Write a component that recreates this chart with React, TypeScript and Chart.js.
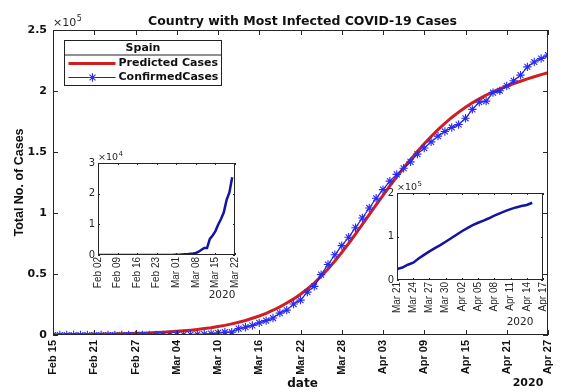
import React, { useEffect, useRef } from "react";
import { Chart, registerables } from "chart.js";
import { drawPoint } from "chart.js/helpers";

Chart.register(...registerables);

// ---------------- data ----------------
const TITLE = "Country with Most Infected COVID-19 Cases";
const COUNTRY = "Spain";
const SERIES_NAMES = ["Predicted Cases", "ConfirmedCases"];
const X_TITLE = "date";
const Y_TITLE = "Total No. of Cases";
const YEAR = "2020";

// main chart: one value per day, Feb 15 .. Apr 27 2020
const MAIN_TICK_LABELS = [
  "Feb 15", "Feb 21", "Feb 27", "Mar 04", "Mar 10", "Mar 16", "Mar 22",
  "Mar 28", "Apr 03", "Apr 09", "Apr 15", "Apr 21", "Apr 27",
];
const MAIN_TICK_STEP_DAYS = 6;

const PREDICTED = [
  240, 280, 320, 370, 420, 490, 560, 640, 740, 850, 980, 1130, 1300, 1490, 1710,
  1970, 2270, 2610, 3000, 3450, 3960, 4560, 5240, 6000, 6900, 7900, 9100, 10400,
  11900, 13700, 15600, 17800, 20300, 23100, 26200, 29600, 33400, 37700, 42600,
  48100, 54100, 60600, 67600, 75000, 82700, 90600,
  98600, 106600, 114500, 122200, 129700, 136900, 143800, 150400, 156700, 162700,
  168300, 173500, 178300, 182700, 186700, 190300, 193600, 196600, 199300, 201700,
  203900, 206000, 208000, 209900, 211700, 213400, 215000,
];

const CONFIRMED = [
  2, 2, 2, 2, 2, 2, 2, 2, 2, 2, 6, 13, 15, 32, 45,
  84, 120, 165, 222, 259, 400, 500, 673, 1073, 1695, 2277, 2277, 5232, 6391, 7798,
  9942, 11748, 13910, 17963, 20410, 25374, 28603, 35136, 39885, 49515, 57786,
  65719, 73235, 80110, 87956, 95923,
  104118, 112065, 119199, 126168, 131646, 136675, 141942, 148220, 153222, 158273,
  163027, 166831, 170099, 172541, 177644, 184948, 190839, 191726, 198674, 200210,
  204178, 208389, 213024, 219764, 223759, 226629, 229422,
];

// inset 1: Feb 02 .. Mar 21
const INSET1_TICK_LABELS = [
  "Feb 02", "Feb 09", "Feb 16", "Feb 23", "Mar 01", "Mar 08", "Mar 15", "Mar 22",
];
const INSET1_TICK_STEP_DAYS = 7;
const INSET1_VALUES = [
  1, 1, 1, 1, 1, 1, 1,
  2, 2, 2, 2, 2, 2, 2, 2, 2, 2, 2, 2, 2, 2, 2, 2,
  6, 13, 15, 32, 45,
  84, 120, 165, 222, 259, 400, 500, 673, 1073, 1695, 2277, 2277, 5232, 6391,
  7798, 9942, 11748, 13910, 17963, 20410, 25374,
];

// inset 2: Mar 21 .. Apr 15
const INSET2_TICK_LABELS = [
  "Mar 21", "Mar 24", "Mar 27", "Mar 30", "Apr 02", "Apr 05", "Apr 08",
  "Apr 11", "Apr 14", "Apr 17",
];
const INSET2_TICK_STEP_DAYS = 3;
const INSET2_VALUES = [
  25374, 28603, 35136, 39885, 49515, 57786, 65719, 73235, 80110, 87956, 95923,
  104118, 112065, 119199, 126168, 131646, 136675, 141942, 148220, 153222,
  158273, 163027, 166831, 170099, 172541, 177644,
];

// ---------------- styles ----------------
const AXIS = "#262626";
const RED = "#cf1f23";
const BLUE = "#1f1fd0";
const BLUE_MARK = "#2a2af2";
const NAVY = "#14149e";
const DJ = "'DejaVu Sans', sans-serif";
const LIB = "'Liberation Sans', Arial, sans-serif";

function drawMultiplier(ctx: CanvasRenderingContext2D, x: number, y: number, exp: string, size: number) {
  ctx.save();
  ctx.fillStyle = AXIS;
  ctx.textAlign = "left";
  ctx.textBaseline = "alphabetic";
  ctx.font = `${size}px ${DJ}`;
  const base = "\u00d710";
  ctx.fillText(base, x, y);
  const w = ctx.measureText(base).width;
  ctx.font = `${Math.round(size * 0.7)}px ${DJ}`;
  ctx.fillText(exp, x + w + 0.5, y - size * 0.45);
  ctx.restore();
}

const mainDecor = {
  id: "mainDecor",
  afterDraw(chart: any) {
    const { ctx, chartArea: a, scales } = chart;
    const xs = scales.x;
    const ys = scales.y;
    ctx.save();
    // box
    ctx.strokeStyle = AXIS;
    ctx.lineWidth = 1;
    ctx.strokeRect(a.left + 0.5, a.top + 0.5, a.right - a.left - 1, a.bottom - a.top - 1);
    // inward ticks on all four sides
    ctx.beginPath();
    xs.ticks.forEach((t: any) => {
      const px = Math.round(xs.getPixelForValue(t.value)) + 0.5;
      ctx.moveTo(px, a.bottom);
      ctx.lineTo(px, a.bottom - 5);
      ctx.moveTo(px, a.top);
      ctx.lineTo(px, a.top + 5);
    });
    ys.ticks.forEach((t: any) => {
      const py = Math.round(ys.getPixelForValue(t.value)) + 0.5;
      ctx.moveTo(a.left, py);
      ctx.lineTo(a.left + 5, py);
      ctx.moveTo(a.right, py);
      ctx.lineTo(a.right - 5, py);
    });
    ctx.stroke();

    // title
    ctx.fillStyle = "#111";
    ctx.textAlign = "center";
    ctx.textBaseline = "alphabetic";
    ctx.font = `bold 12.5px ${DJ}`;
    ctx.fillText(TITLE, (a.left + a.right) / 2 + 2, 25);

    // y title
    ctx.save();
    ctx.translate(23, (a.top + a.bottom) / 2);
    ctx.rotate(-Math.PI / 2);
    ctx.font = `bold 12.5px ${LIB}`;
    ctx.textAlign = "center";
    ctx.fillText(Y_TITLE, 0, 0);
    ctx.restore();

    // x title and year
    ctx.font = `bold 12px ${DJ}`;
    ctx.textAlign = "center";
    ctx.fillText(X_TITLE, (a.left + a.right) / 2 + 2, 387);
    ctx.font = `bold 11px ${DJ}`;
    ctx.fillText(YEAR, a.right - 20, 386);

    // exponent
    drawMultiplier(ctx, a.left, 26, "5", 11);

    // legend
    const lx = a.left + 11.5;
    const ly = a.top + 10.5;
    const lw = 157;
    const lh = 45;
    ctx.fillStyle = "#fff";
    ctx.fillRect(lx, ly, lw, lh);
    ctx.strokeStyle = "#222";
    ctx.lineWidth = 1;
    ctx.strokeRect(lx, ly, lw, lh);
    ctx.beginPath();
    ctx.moveTo(lx, ly + 14.5);
    ctx.lineTo(lx + lw, ly + 14.5);
    ctx.stroke();
    ctx.fillStyle = "#111";
    ctx.font = `bold 11px ${DJ}`;
    ctx.textAlign = "center";
    ctx.textBaseline = "middle";
    ctx.fillText(COUNTRY, lx + lw / 2, ly + 7.5);

    const ds = chart.data.datasets;
    const rows = [ly + 23, ly + 37];
    // predicted
    ctx.strokeStyle = ds[0].borderColor;
    ctx.lineWidth = ds[0].borderWidth;
    ctx.beginPath();
    ctx.moveTo(lx + 4, rows[0]);
    ctx.lineTo(lx + 51, rows[0]);
    ctx.stroke();
    // confirmed
    ctx.strokeStyle = ds[1].borderColor;
    ctx.lineWidth = ds[1].borderWidth;
    ctx.beginPath();
    ctx.moveTo(lx + 4, rows[1]);
    ctx.lineTo(lx + 51, rows[1]);
    ctx.stroke();
    ctx.strokeStyle = ds[1].pointBorderColor;
    ctx.lineWidth = ds[1].pointBorderWidth;
    drawPoint(ctx, { pointStyle: "star", radius: ds[1].pointRadius, borderWidth: ds[1].pointBorderWidth, rotation: 0 } as any, lx + 28, rows[1]);

    ctx.fillStyle = "#111";
    ctx.textAlign = "left";
    ctx.textBaseline = "middle";
    ctx.font = `bold 11px ${DJ}`;
    ctx.fillText(SERIES_NAMES[0], lx + 54, rows[0]);
    ctx.fillText(SERIES_NAMES[1], lx + 54, rows[1]);
    ctx.restore();
  },
};

function makeInsetDecor(exp: string, yearX: number, yearY: number) {
  return {
    id: "insetDecor",
    beforeDraw(chart: any) {
      const { ctx, chartArea: a } = chart;
      ctx.save();
      ctx.fillStyle = "#fff";
      ctx.fillRect(a.left, a.top, a.right - a.left, a.bottom - a.top);
      ctx.restore();
    },
    afterDraw(chart: any) {
      const { ctx, chartArea: a, scales } = chart;
      const xs = scales.x;
      const ys = scales.y;
      ctx.save();
      ctx.strokeStyle = AXIS;
      ctx.lineWidth = 1;
      ctx.strokeRect(a.left + 0.5, a.top + 0.5, a.right - a.left - 1, a.bottom - a.top - 1);
      ctx.beginPath();
      xs.ticks.forEach((t: any) => {
        const px = Math.round(xs.getPixelForValue(t.value)) + 0.5;
        ctx.moveTo(px, a.bottom);
        ctx.lineTo(px, a.bottom - 2);
        ctx.moveTo(px, a.top);
        ctx.lineTo(px, a.top + 2);
      });
      ys.ticks.forEach((t: any) => {
        const py = Math.round(ys.getPixelForValue(t.value)) + 0.5;
        ctx.moveTo(a.left, py);
        ctx.lineTo(a.left + 2, py);
        ctx.moveTo(a.right, py);
        ctx.lineTo(a.right - 2, py);
      });
      ctx.stroke();
      drawMultiplier(ctx, a.left, a.top - 3, exp, 9.5);
      ctx.fillStyle = AXIS;
      ctx.font = `10.5px ${DJ}`;
      ctx.textAlign = "center";
      ctx.textBaseline = "middle";
      ctx.fillText(YEAR, yearX, yearY);
      ctx.restore();
    },
  };
}

function insetConfig(
  values: number[],
  tickLabels: string[],
  step: number,
  yMax: number,
  yUnit: number,
  exp: string,
  yWidth: number,
  xHeight: number,
  padTop: number,
  padRight: number,
  yearX: number,
  yearY: number,
): any {
  const xMax = (tickLabels.length - 1) * step;
  return {
    type: "line",
    data: {
      datasets: [
        {
          data: values.map((v, i) => ({ x: i, y: v })),
          borderColor: NAVY,
          borderWidth: 2.5,
          pointRadius: 0,
          tension: 0,
        },
      ],
    },
    options: {
      responsive: false,
      animation: false,
      devicePixelRatio: 1,
      events: [],
      layout: { padding: { top: padTop, right: padRight, left: 0, bottom: 0 } },
      plugins: { legend: { display: false }, tooltip: { enabled: false } },
      scales: {
        x: {
          type: "linear",
          min: 0,
          max: xMax,
          afterBuildTicks: (s: any) => {
            s.ticks = tickLabels.map((_, i) => ({ value: i * step }));
          },
          afterFit: (s: any) => {
            s.height = xHeight;
          },
          grid: { display: false, drawTicks: false },
          border: { display: false },
          ticks: {
            autoSkip: false,
            minRotation: 90,
            maxRotation: 90,
            padding: 2,
            color: AXIS,
            font: { family: LIB, size: 10 },
            callback: (v: number) => tickLabels[Math.round(v / step)],
          },
        },
        y: {
          min: 0,
          max: yMax,
          afterFit: (s: any) => {
            s.width = yWidth;
          },
          grid: { display: false, drawTicks: false },
          border: { display: false },
          ticks: {
            stepSize: yUnit,
            padding: 3,
            color: AXIS,
            font: { family: DJ, size: 10 },
            callback: (v: number) => String(v / yUnit),
          },
        },
      },
    },
    plugins: [makeInsetDecor(exp, yearX, yearY)],
  };
}

export default function App() {
  const mainRef = useRef<HTMLCanvasElement>(null);
  const in1Ref = useRef<HTMLCanvasElement>(null);
  const in2Ref = useRef<HTMLCanvasElement>(null);

  useEffect(() => {
    const charts: Chart[] = [];
    const main = new Chart(mainRef.current!, {
      type: "line",
      data: {
        datasets: [
          {
            label: SERIES_NAMES[0],
            data: PREDICTED.map((v, i) => ({ x: i, y: v })),
            borderColor: RED,
            borderWidth: 3,
            pointRadius: 0,
            tension: 0,
            order: 2,
          },
          {
            label: SERIES_NAMES[1],
            data: CONFIRMED.map((v, i) => ({ x: i, y: v })),
            borderColor: BLUE,
            borderWidth: 1.2,
            pointStyle: "star",
            pointRadius: 4.2,
            pointBorderColor: BLUE_MARK,
            pointBorderWidth: 1.1,
            pointBackgroundColor: "rgba(0,0,0,0)",
            tension: 0,
            order: 1,
          },
        ],
      },
      options: {
        responsive: false,
        animation: false,
        devicePixelRatio: 1,
        events: [],
        layout: { padding: { top: 30, right: 34, left: 0, bottom: 0 } },
        plugins: { legend: { display: false }, tooltip: { enabled: false } },
        scales: {
          x: {
            type: "linear",
            min: 0,
            max: (MAIN_TICK_LABELS.length - 1) * MAIN_TICK_STEP_DAYS,
            afterBuildTicks: (s: any) => {
              s.ticks = MAIN_TICK_LABELS.map((_, i) => ({ value: i * MAIN_TICK_STEP_DAYS }));
            },
            afterFit: (s: any) => {
              s.height = 57;
            },
            grid: { display: false, drawTicks: false },
            border: { display: false },
            ticks: {
              autoSkip: false,
              minRotation: 90,
              maxRotation: 90,
              padding: 5,
              color: "#111",
              font: { family: LIB, size: 11, weight: "bold" },
              callback: (v: any) => MAIN_TICK_LABELS[Math.round(Number(v) / MAIN_TICK_STEP_DAYS)],
            },
          },
          y: {
            min: 0,
            max: 250000,
            afterFit: (s: any) => {
              s.width = 53;
            },
            grid: { display: false, drawTicks: false },
            border: { display: false },
            ticks: {
              stepSize: 50000,
              padding: 6,
              color: "#111",
              font: { family: DJ, size: 11, weight: "bold" },
              callback: (v: any) => String(Number(v) / 100000),
            },
          },
        },
      },
      plugins: [mainDecor],
    } as any);
    charts.push(main);

    // inset 1 canvas at (55,140), 195x165
    charts.push(
      new Chart(
        in1Ref.current!,
        insetConfig(INSET1_VALUES, INSET1_TICK_LABELS, INSET1_TICK_STEP_DAYS, 30000, 10000, "4",
          43, 50, 23, 15, 167, 155),
      ),
    );
    // inset 2 canvas at (360,170), 222x160
    charts.push(
      new Chart(
        in2Ref.current!,
        insetConfig(INSET2_VALUES, INSET2_TICK_LABELS, INSET2_TICK_STEP_DAYS, 200000, 100000, "5",
          37, 50, 23, 39, 160, 152),
      ),
    );
    return () => charts.forEach((c) => c.destroy());
  }, []);

  return (
    <div style={{ position: "fixed", left: 0, top: 0, width: 582, height: 392, background: "#fff", overflow: "hidden" }}>
      <canvas ref={mainRef} width={582} height={392} style={{ position: "absolute", left: 0, top: 0 }} />
      <canvas ref={in1Ref} width={195} height={165} style={{ position: "absolute", left: 55, top: 140 }} />
      <canvas ref={in2Ref} width={222} height={160} style={{ position: "absolute", left: 360, top: 170 }} />
    </div>
  );
}
